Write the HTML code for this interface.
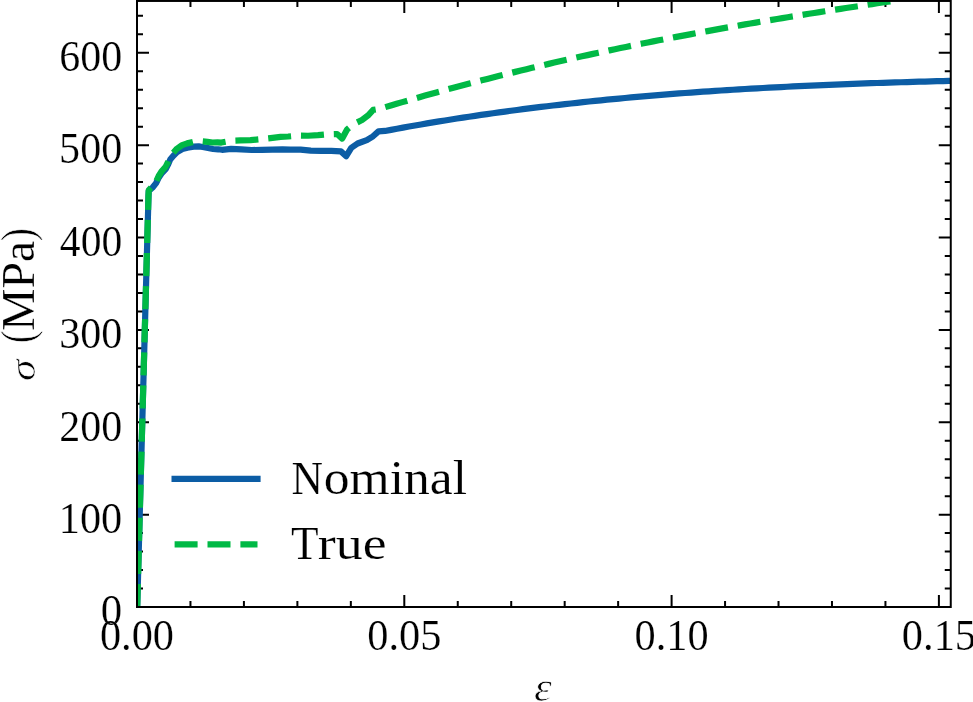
<!DOCTYPE html>
<html><head><meta charset="utf-8"><title>Stress-strain</title>
<style>html,body{margin:0;padding:0;background:#fff;}svg{display:block;will-change:transform;}</style>
</head><body>
<svg width="973" height="702" viewBox="0 0 973 702">
<defs><clipPath id="ax"><rect x="137.00" y="0.95" width="813.75" height="606.05"/></clipPath></defs>
<rect width="973" height="702" fill="#fff"/>
<path d="M137.00 607.00V595.00M137.00 0.95V12.95M190.46 607.00V601.00M190.46 0.95V6.95M243.92 607.00V601.00M243.92 0.95V6.95M297.38 607.00V601.00M297.38 0.95V6.95M350.84 607.00V601.00M350.84 0.95V6.95M404.30 607.00V595.00M404.30 0.95V12.95M457.76 607.00V601.00M457.76 0.95V6.95M511.22 607.00V601.00M511.22 0.95V6.95M564.68 607.00V601.00M564.68 0.95V6.95M618.14 607.00V601.00M618.14 0.95V6.95M671.60 607.00V595.00M671.60 0.95V12.95M725.06 607.00V601.00M725.06 0.95V6.95M778.52 607.00V601.00M778.52 0.95V6.95M831.98 607.00V601.00M831.98 0.95V6.95M885.44 607.00V601.00M885.44 0.95V6.95M938.90 607.00V595.00M938.90 0.95V12.95M137.00 607.00H149.00M950.75 607.00H938.75M137.00 588.53H143.00M950.75 588.53H944.75M137.00 570.05H143.00M950.75 570.05H944.75M137.00 551.58H143.00M950.75 551.58H944.75M137.00 533.10H143.00M950.75 533.10H944.75M137.00 514.63H149.00M950.75 514.63H938.75M137.00 496.16H143.00M950.75 496.16H944.75M137.00 477.68H143.00M950.75 477.68H944.75M137.00 459.21H143.00M950.75 459.21H944.75M137.00 440.73H143.00M950.75 440.73H944.75M137.00 422.26H149.00M950.75 422.26H938.75M137.00 403.79H143.00M950.75 403.79H944.75M137.00 385.31H143.00M950.75 385.31H944.75M137.00 366.84H143.00M950.75 366.84H944.75M137.00 348.36H143.00M950.75 348.36H944.75M137.00 329.89H149.00M950.75 329.89H938.75M137.00 311.42H143.00M950.75 311.42H944.75M137.00 292.94H143.00M950.75 292.94H944.75M137.00 274.47H143.00M950.75 274.47H944.75M137.00 255.99H143.00M950.75 255.99H944.75M137.00 237.52H149.00M950.75 237.52H938.75M137.00 219.05H143.00M950.75 219.05H944.75M137.00 200.57H143.00M950.75 200.57H944.75M137.00 182.10H143.00M950.75 182.10H944.75M137.00 163.62H143.00M950.75 163.62H944.75M137.00 145.15H149.00M950.75 145.15H938.75M137.00 126.68H143.00M950.75 126.68H944.75M137.00 108.20H143.00M950.75 108.20H944.75M137.00 89.73H143.00M950.75 89.73H944.75M137.00 71.25H143.00M950.75 71.25H944.75M137.00 52.78H149.00M950.75 52.78H938.75M137.00 34.31H143.00M950.75 34.31H944.75M137.00 15.83H143.00M950.75 15.83H944.75" stroke="#000" stroke-width="2" fill="none"/>
<g clip-path="url(#ax)" fill="none" stroke-linejoin="round">
<polyline points="137.20,607.00 148.50,196.00 148.75,191.00 152.60,187.50 156.10,183.10 158.70,177.70 161.90,173.00 165.70,169.10 168.30,164.10 170.20,159.60 173.40,155.80 177.10,152.10 182.30,149.00 187.40,147.70 193.60,146.70 198.70,146.40 202.80,147.00 208.00,148.00 213.10,149.00 218.20,149.30 222.00,149.80 231.10,148.90 241.40,149.40 251.70,150.00 261.90,149.90 272.20,149.70 282.50,149.30 290.30,149.60 300.60,149.60 310.80,150.60 321.10,150.90 331.40,150.90 336.00,151.10 340.90,151.40 346.20,156.20 351.40,147.70 357.60,143.50 366.80,140.10 373.00,136.30 378.50,131.40 385.00,130.95 391.00,129.83 397.00,128.72 403.00,127.63 409.00,126.55 415.00,125.50 421.00,124.46 427.00,123.43 433.00,122.42 439.00,121.43 445.00,120.46 451.00,119.50 457.00,118.56 463.00,117.63 469.00,116.72 475.00,115.82 481.00,114.94 487.00,114.08 493.00,113.23 499.00,112.39 505.00,111.57 511.00,110.76 517.00,109.97 523.00,109.19 529.00,108.43 535.00,107.68 541.00,106.94 547.00,106.22 553.00,105.51 559.00,104.81 565.00,104.13 571.00,103.46 577.00,102.80 583.00,102.16 589.00,101.53 595.00,100.91 601.00,100.30 607.00,99.71 613.00,99.13 619.00,98.55 625.00,97.99 631.00,97.45 637.00,96.91 643.00,96.38 649.00,95.87 655.00,95.37 661.00,94.87 667.00,94.39 673.00,93.92 679.00,93.46 685.00,93.01 691.00,92.57 697.00,92.13 703.00,91.71 709.00,91.30 715.00,90.90 721.00,90.50 727.00,90.12 733.00,89.74 739.00,89.38 745.00,89.02 751.00,88.67 757.00,88.33 763.00,87.99 769.00,87.67 775.00,87.35 781.00,87.04 787.00,86.74 793.00,86.45 799.00,86.16 805.00,85.88 811.00,85.60 817.00,85.34 823.00,85.08 829.00,84.82 835.00,84.58 841.00,84.34 847.00,84.10 853.00,83.87 859.00,83.65 865.00,83.43 871.00,83.22 877.00,83.01 883.00,82.81 889.00,82.62 895.00,82.42 901.00,82.24 907.00,82.06 913.00,81.88 919.00,81.70 925.00,81.53 931.00,81.37 937.00,81.21 943.00,81.05 949.00,80.89 950.90,80.85" stroke="#0C5DA5" stroke-width="6.2" stroke-linecap="square"/>
<polyline points="137.20,607.00 148.49,195.12 148.74,190.09 152.58,186.28" stroke="#00B945" stroke-width="6.2" stroke-dasharray="23.1 10.0" stroke-linecap="butt"/>
<polyline points="152.58,186.28 156.07,181.59 158.66,175.96 161.84,170.98 165.62,166.75 168.21,161.51 170.10,156.82 173.28,152.73 176.95,148.69 182.11,145.12 187.16,143.37 193.30,141.83 198.35,141.08 202.40,141.34 207.53,141.90 212.56,142.48 217.59,142.35 221.33,142.53 230.28,140.84 240.39,140.46 250.49,140.19 260.46,139.22 270.52,138.13 280.56,136.84 288.14,136.48 298.15,135.60 308.03,135.76 318.00,135.19 327.95,134.31 332.39,134.13 337.11,134.02 342.21,138.56 347.21,129.28 353.17,124.37 362.00,120.03 367.94,115.52 373.20,109.92 379.42,108.87 385.15,107.16 390.88,105.46 396.59,103.78 402.31,102.11 408.01,100.46 413.71,98.82 419.41,97.20 425.10,95.59 430.78,94.00 436.45,92.43 442.12,90.87 447.79,89.32 453.45,87.79 459.10,86.27 464.75,84.77 470.39,83.28 476.02,81.81 481.65,80.35 487.27,78.90 492.89,77.47 498.50,76.05 504.10,74.64 509.70,73.25 515.29,71.87 520.88,70.50 526.46,69.15 532.04,67.81 537.61,66.49 543.17,65.17 548.73,63.87 554.28,62.58 559.83,61.31 565.37,60.04 570.90,58.79 576.43,57.55 581.96,56.32 587.48,55.11 592.99,53.90 598.49,52.71 604.00,51.53 609.49,50.36 614.98,49.20 620.46,48.05 625.94,46.92 631.42,45.79 636.88,44.68 642.34,43.57 647.80,42.48 653.25,41.39 658.70,40.32 664.14,39.26 669.57,38.20 675.00,37.16 680.42,36.12 685.84,35.10 691.25,34.08 696.66,33.07 702.06,32.08 707.45,31.09 712.84,30.11 718.23,29.14 723.61,28.17 728.98,27.22 734.35,26.27 739.71,25.34 745.07,24.41 750.42,23.48 755.77,22.57 761.11,21.66 766.45,20.76 771.78,19.87 777.10,18.98 782.42,18.10 787.74,17.23 793.05,16.37 798.35,15.51 803.65,14.66 808.94,13.81 814.23,12.97 819.52,12.14 824.80,11.31 830.07,10.48 835.34,9.67 840.60,8.85 845.86,8.05 851.11,7.24 856.36,6.45 861.60,5.65 866.83,4.86 872.07,4.08 877.29,3.30 882.51,2.52 887.73,1.75 892.94,0.98 894.59,0.74" stroke="#00B945" stroke-width="6.2" stroke-dasharray="23.0 9.9" stroke-dashoffset="420.88" stroke-linecap="butt"/>
</g>
<rect x="137.0" y="0.95" width="813.75" height="606.05" fill="none" stroke="#000" stroke-width="2" stroke-linejoin="miter"/>
<g font-family="'Liberation Serif', serif" font-size="100" fill="#000" stroke="#fff" stroke-width="0.5">
<text transform="translate(100.83,625.26) scale(0.4289,0.4426)">0</text>
<text transform="translate(58.73,532.89) scale(0.4235,0.4426)">100</text>
<text transform="translate(59.18,440.52) scale(0.4204,0.4426)">200</text>
<text transform="translate(59.14,348.15) scale(0.4207,0.4426)">300</text>
<text transform="translate(59.87,255.78) scale(0.4157,0.4426)">400</text>
<text transform="translate(59.12,163.41) scale(0.4209,0.4426)">500</text>
<text transform="translate(59.28,71.04) scale(0.4197,0.4426)">600</text>
<text transform="translate(99.95,649.91) scale(0.4235,0.4404)">0.00</text>
<text transform="translate(367.24,649.91) scale(0.4243,0.4404)">0.05</text>
<text transform="translate(634.55,649.91) scale(0.4235,0.4404)">0.10</text>
<text transform="translate(901.84,649.91) scale(0.4243,0.4404)">0.15</text>
<text transform="translate(534.10,701.09) scale(0.4500,0.4062)" font-style="italic" stroke-width="1.8">ε</text>
<text transform="translate(34.54,381.10) rotate(-90) scale(0.4338,0.3646)" font-style="italic" stroke-width="1.5">σ</text>
<text transform="translate(32.89,343.35) rotate(-90) scale(0.3818,0.4672)" stroke-width="1.5">(</text>
<text transform="translate(34.24,330.72) rotate(-90) scale(0.4749,0.4635)">MPa</text>
<text transform="translate(32.84,241.32) rotate(-90) scale(0.3974,0.4694)" stroke-width="1.5">)</text>
</g>
<g font-family="'Liberation Serif', serif" font-size="100" fill="#000" stroke="#fff" stroke-width="0.4">
<text transform="translate(291.59,494.00) scale(0.4358,0.4675)">N</text>
<text transform="translate(323.71,494.01) scale(0.5162,0.4863)">ominal</text>
<text transform="translate(291.05,559.00) scale(0.4509,0.4645)">T</text>
<text transform="translate(317.82,558.93) scale(0.5387,0.4708)">rue</text>
</g>
<path d="M174.6 478.9H257.5" stroke="#0C5DA5" stroke-width="6.2" stroke-linecap="square"/>
<path d="M174.6 544.4H257.5" stroke="#00B945" stroke-width="6.2" stroke-dasharray="23.0 9.9" stroke-linecap="butt"/>
</svg>
</body></html>
